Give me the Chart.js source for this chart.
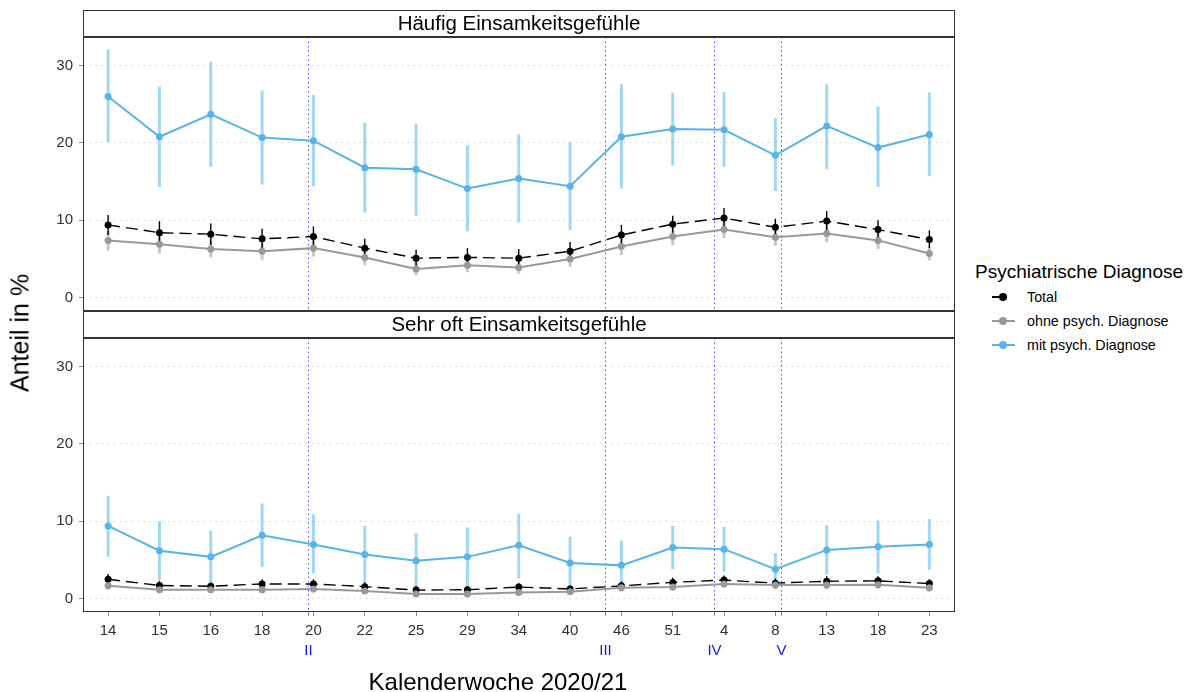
<!DOCTYPE html>
<html>
<head>
<meta charset="utf-8">
<script src="https://cdn.jsdelivr.net/npm/chart.js@4.4.0/dist/chart.umd.min.js"></script>
<style>
  body { margin: 0; background: #fff; width: 1197px; height: 692px; overflow: hidden; position: relative;
         font-family: "Liberation Sans", Arial, sans-serif; color: #000; }
  #c1 { position: absolute; left: 0; top: 0; }
  #c2 { position: absolute; left: 0; top: 310px; }
  #ytitle { position: absolute; left: 20px; top: 333px; font-size: 25px; white-space: nowrap;
            transform: translate(-50%, -50%) rotate(-90deg); }
  #xtitle { position: absolute; left: 498px; top: 682px; font-size: 24px; white-space: nowrap;
            transform: translate(-50%, -50%); }
  #legend { position: absolute; left: 975px; top: 260px; }
  #legend .lt { font-size: 19px; line-height: 24px; margin-bottom: 1px; }
  #legend .item { position: relative; height: 24px; font-size: 14.3px; line-height: 24px; padding-left: 52px; }
  #legend .ln { position: absolute; left: 17px; top: 11px; width: 23px; height: 0; border-top: 2px solid; }
  #legend .dt { position: absolute; left: 24px; top: 8px; width: 8px; height: 8px; border-radius: 50%; }
</style>
</head>
<body>
<canvas id="c1" width="960" height="325"></canvas>
<canvas id="c2" width="960" height="382"></canvas>
<div id="ytitle">Anteil in %</div>
<div id="xtitle">Kalenderwoche 2020/21</div>
<div id="legend">
  <div class="lt">Psychiatrische Diagnose</div>
  <div class="item"><span class="ln" style="border-color:#000;width:14px"></span><span class="dt" style="background:#000"></span>Total</div>
  <div class="item"><span class="ln" style="border-color:#999"></span><span class="dt" style="background:#999"></span>ohne psych. Diagnose</div>
  <div class="item"><span class="ln" style="border-color:#56B4E9"></span><span class="dt" style="background:#56B4E9"></span>mit psych. Diagnose</div>
</div>
<script>
// Kalenderwochen 2020/21
const weeks = ['14', '15', '16', '18', '20', '22', '25', '29', '34', '40', '46', '51', '4', '8', '13', '18', '23'];
const yTicks = [0, 10, 20, 30];

// Lockdown-Phasen (Position zwischen den Erhebungswellen)
const phasePos = [3.9, 9.69, 11.8, 13.1];
const phaseLabels = ['II', 'III', 'IV', 'V'];

// Häufig Einsamkeitsgefühle
const total1   = [9.4, 8.4, 8.2, 7.6, 7.9, 6.4, 5.1, 5.2, 5.1, 6.0, 8.1, 9.5, 10.3, 9.1, 9.9, 8.8, 7.5];
const total1Lo = [8.1, 7.0, 6.8, 6.4, 6.6, 5.3, 4.1, 4.2, 4.1, 5.0, 6.9, 8.4, 9.1, 8.0, 8.7, 7.7, 6.4];
const total1Hi = [10.7, 9.9, 9.6, 8.9, 9.2, 7.6, 6.2, 6.4, 6.3, 7.2, 9.4, 10.6, 11.6, 10.2, 11.2, 10.0, 8.7];
const ohne1    = [7.4, 6.9, 6.3, 6.0, 6.4, 5.2, 3.7, 4.2, 3.9, 5.0, 6.6, 7.9, 8.8, 7.8, 8.3, 7.4, 5.7];
const ohne1Lo  = [6.1, 5.7, 5.2, 4.9, 5.3, 4.2, 2.9, 3.3, 3.1, 4.0, 5.5, 6.8, 7.7, 6.7, 7.2, 6.3, 4.8];
const ohne1Hi  = [8.6, 8.0, 7.4, 7.1, 7.5, 6.2, 4.6, 5.1, 4.8, 6.0, 7.7, 9.0, 9.9, 8.9, 9.4, 8.5, 6.7];
const mit1     = [26.0, 20.8, 23.7, 20.7, 20.3, 16.8, 16.6, 14.1, 15.4, 14.4, 20.8, 21.8, 21.7, 18.4, 22.2, 19.4, 21.1];
const mit1Lo   = [20.1, 14.3, 16.9, 14.6, 14.4, 11.0, 10.6, 8.6, 9.7, 8.7, 14.1, 17.1, 16.9, 13.8, 16.6, 14.3, 15.7];
const mit1Hi   = [32.1, 27.3, 30.5, 26.8, 26.2, 22.6, 22.5, 19.7, 21.1, 20.1, 27.6, 26.5, 26.6, 23.2, 27.6, 24.7, 26.5];

// Sehr oft Einsamkeitsgefühle
const total2   = [2.5, 1.7, 1.6, 1.9, 1.9, 1.55, 1.1, 1.15, 1.5, 1.25, 1.65, 2.1, 2.4, 2.0, 2.25, 2.3, 1.95];
const total2Lo = [1.9, 1.2, 1.1, 1.4, 1.4, 1.1, 0.7, 0.7, 1.0, 0.8, 1.1, 1.5, 1.8, 1.4, 1.7, 1.7, 1.4];
const total2Hi = [3.2, 2.3, 2.1, 2.5, 2.5, 2.1, 1.6, 1.6, 2.0, 1.7, 2.2, 2.7, 3.0, 2.6, 2.9, 2.9, 2.5];
const ohne2    = [1.65, 1.15, 1.15, 1.15, 1.25, 1.0, 0.6, 0.6, 0.8, 0.9, 1.4, 1.5, 1.9, 1.75, 1.75, 1.8, 1.4];
const ohne2Lo  = [1.2, 0.7, 0.7, 0.7, 0.8, 0.6, 0.3, 0.3, 0.4, 0.5, 0.9, 1.0, 1.4, 1.2, 1.2, 1.3, 0.9];
const ohne2Hi  = [2.2, 1.6, 1.6, 1.6, 1.7, 1.4, 0.9, 0.9, 1.2, 1.3, 1.9, 2.0, 2.4, 2.3, 2.3, 2.3, 1.9];
const mit2     = [9.4, 6.2, 5.4, 8.2, 7.0, 5.7, 4.9, 5.4, 6.9, 4.6, 4.3, 6.6, 6.4, 3.8, 6.3, 6.7, 7.0];
const mit2Lo   = [5.4, 2.4, 1.9, 4.1, 3.3, 2.0, 1.3, 1.6, 2.6, 1.2, 1.0, 3.8, 3.5, 1.7, 3.1, 3.3, 3.7];
const mit2Hi   = [13.3, 10.0, 8.8, 12.3, 10.9, 9.4, 8.5, 9.2, 11.0, 8.0, 7.5, 9.4, 9.3, 5.9, 9.5, 10.1, 10.3];

const BLUE = '#56B4E9', GREY = '#999999', BLACK = '#000000';
const FONT = '"Liberation Sans", Arial, sans-serif';

const xy = arr => arr.map((v, i) => ({ x: i, y: v }));

function series(label, arr, color, dash) {
  return {
    label, data: xy(arr), borderColor: color, backgroundColor: color,
    borderWidth: dash ? 1.4 : 2, borderDash: dash || [], pointRadius: 3.5, pointBorderWidth: 0,
    pointHoverRadius: 3.5, tension: 0
  };
}

// strip header, panel frame, phase lines and error bars
const panelPlugin = {
  id: 'panel',
  beforeDatasetsDraw(chart, args, opts) {
    const { ctx, chartArea: a, scales: { x, y } } = chart;
    ctx.save();
    ctx.strokeStyle = 'rgba(60,60,255,0.9)';
    ctx.lineWidth = 1;
    ctx.setLineDash([1.5, 3]);
    phasePos.forEach(p => {
      const px = Math.round(x.getPixelForValue(p)) + 0.5;
      ctx.beginPath(); ctx.moveTo(px, a.top); ctx.lineTo(px, a.bottom); ctx.stroke();
    });
    ctx.setLineDash([]);
    opts.bars.forEach(b => {
      ctx.strokeStyle = b.color;
      ctx.lineWidth = b.width;
      b.lo.forEach((lo, i) => {
        const px = x.getPixelForValue(i);
        ctx.beginPath();
        ctx.moveTo(px, y.getPixelForValue(lo));
        ctx.lineTo(px, y.getPixelForValue(b.hi[i]));
        ctx.stroke();
      });
    });
    ctx.restore();
  },
  afterDraw(chart, args, opts) {
    const { ctx, chartArea: a, scales: { x } } = chart;
    ctx.save();
    // frame
    ctx.strokeStyle = '#333';
    ctx.lineWidth = 1;
    ctx.strokeRect(a.left - 0.5, a.top, a.right - a.left + 1, a.bottom - a.top + 0.5);
    // strip
    const st = a.top - opts.stripH;
    ctx.fillStyle = '#fff';
    ctx.fillRect(a.left - 1, st, a.right - a.left + 2, opts.stripH);
    ctx.strokeRect(a.left - 0.5, st + 0.5, a.right - a.left + 1, opts.stripH);
    ctx.lineWidth = 2;
    ctx.beginPath(); ctx.moveTo(a.left - 1, a.top); ctx.lineTo(a.right + 1, a.top); ctx.stroke();
    ctx.fillStyle = '#000';
    ctx.font = '20.5px ' + FONT;
    ctx.textAlign = 'center';
    ctx.textBaseline = 'middle';
    ctx.fillText(opts.title, (a.left + a.right) / 2, st + opts.stripH / 2 + 1);
    if (opts.phaseLabels) {
      ctx.strokeStyle = '#888';
      ctx.lineWidth = 1;
      ctx.fillStyle = '#1515ff';
      ctx.font = '15px ' + FONT;
      phasePos.forEach((p, i) => {
        const px = Math.round(x.getPixelForValue(p)) + 0.5;
        ctx.beginPath(); ctx.moveTo(px, a.bottom + 1); ctx.lineTo(px, a.bottom + 5); ctx.stroke();
        ctx.fillText(phaseLabels[i], px, a.bottom + 40);
      });
    }
    ctx.restore();
  }
};

function yScale() {
  return {
    type: 'linear', min: -1.6, max: 33.7,
    afterBuildTicks: s => { s.ticks = yTicks.map(v => ({ value: v })); },
    afterFit: s => { s.width = 84; },
    grid: { color: '#c4c4c4', lineWidth: 1, tickLength: 5, tickColor: '#888', tickBorderDash: [] },
    border: { display: false, dash: [1, 5] },
    ticks: { color: '#303030', font: { family: FONT, size: 15 }, padding: 6 }
  };
}

function xScale(show) {
  return {
    type: 'linear', min: -0.47, max: 16.48, display: show,
    afterBuildTicks: s => { s.ticks = weeks.map((w, i) => ({ value: i })); },
    afterFit: s => { s.height = show ? 81 : 0; },
    grid: { drawOnChartArea: false, tickLength: 5, tickColor: '#888' },
    border: { display: false },
    ticks: { color: '#303030', font: { family: FONT, size: 15 }, padding: 6, maxRotation: 0, autoSkip: false,
             callback: v => weeks[v] }
  };
}

function makeChart(id, title, tot, ohne, mit, bars, showX, padding) {
  return new Chart(document.getElementById(id), {
    type: 'line',
    data: {
      datasets: [
        series('mit psych. Diagnose', mit, BLUE),
        series('ohne psych. Diagnose', ohne, GREY),
        series('Total', tot, BLACK, [12, 6])
      ]
    },
    options: {
      responsive: false, animation: false, devicePixelRatio: 1,
      layout: { padding },
      scales: { x: xScale(showX), y: yScale() },
      plugins: {
        legend: { display: false }, tooltip: { enabled: false },
        panel: { title, bars, stripH: 27, phaseLabels: showX }
      }
    },
    plugins: [panelPlugin]
  });
}

makeChart('c1', 'Häufig Einsamkeitsgefühle', total1, ohne1, mit1, [
  { lo: mit1Lo, hi: mit1Hi, color: 'rgba(86,180,233,0.55)', width: 3 },
  { lo: ohne1Lo, hi: ohne1Hi, color: 'rgba(153,153,153,0.55)', width: 3 },
  { lo: total1Lo, hi: total1Hi, color: BLACK, width: 1.4 }
], false, { top: 37, right: 6, bottom: 0, left: 0 });

makeChart('c2', 'Sehr oft Einsamkeitsgefühle', total2, ohne2, mit2, [
  { lo: mit2Lo, hi: mit2Hi, color: 'rgba(86,180,233,0.55)', width: 3 },
  { lo: ohne2Lo, hi: ohne2Hi, color: 'rgba(153,153,153,0.55)', width: 3 },
  { lo: total2Lo, hi: total2Hi, color: BLACK, width: 1.4 }
], true, { top: 28, right: 6, bottom: 0, left: 0 });
</script>
</body>
</html>
